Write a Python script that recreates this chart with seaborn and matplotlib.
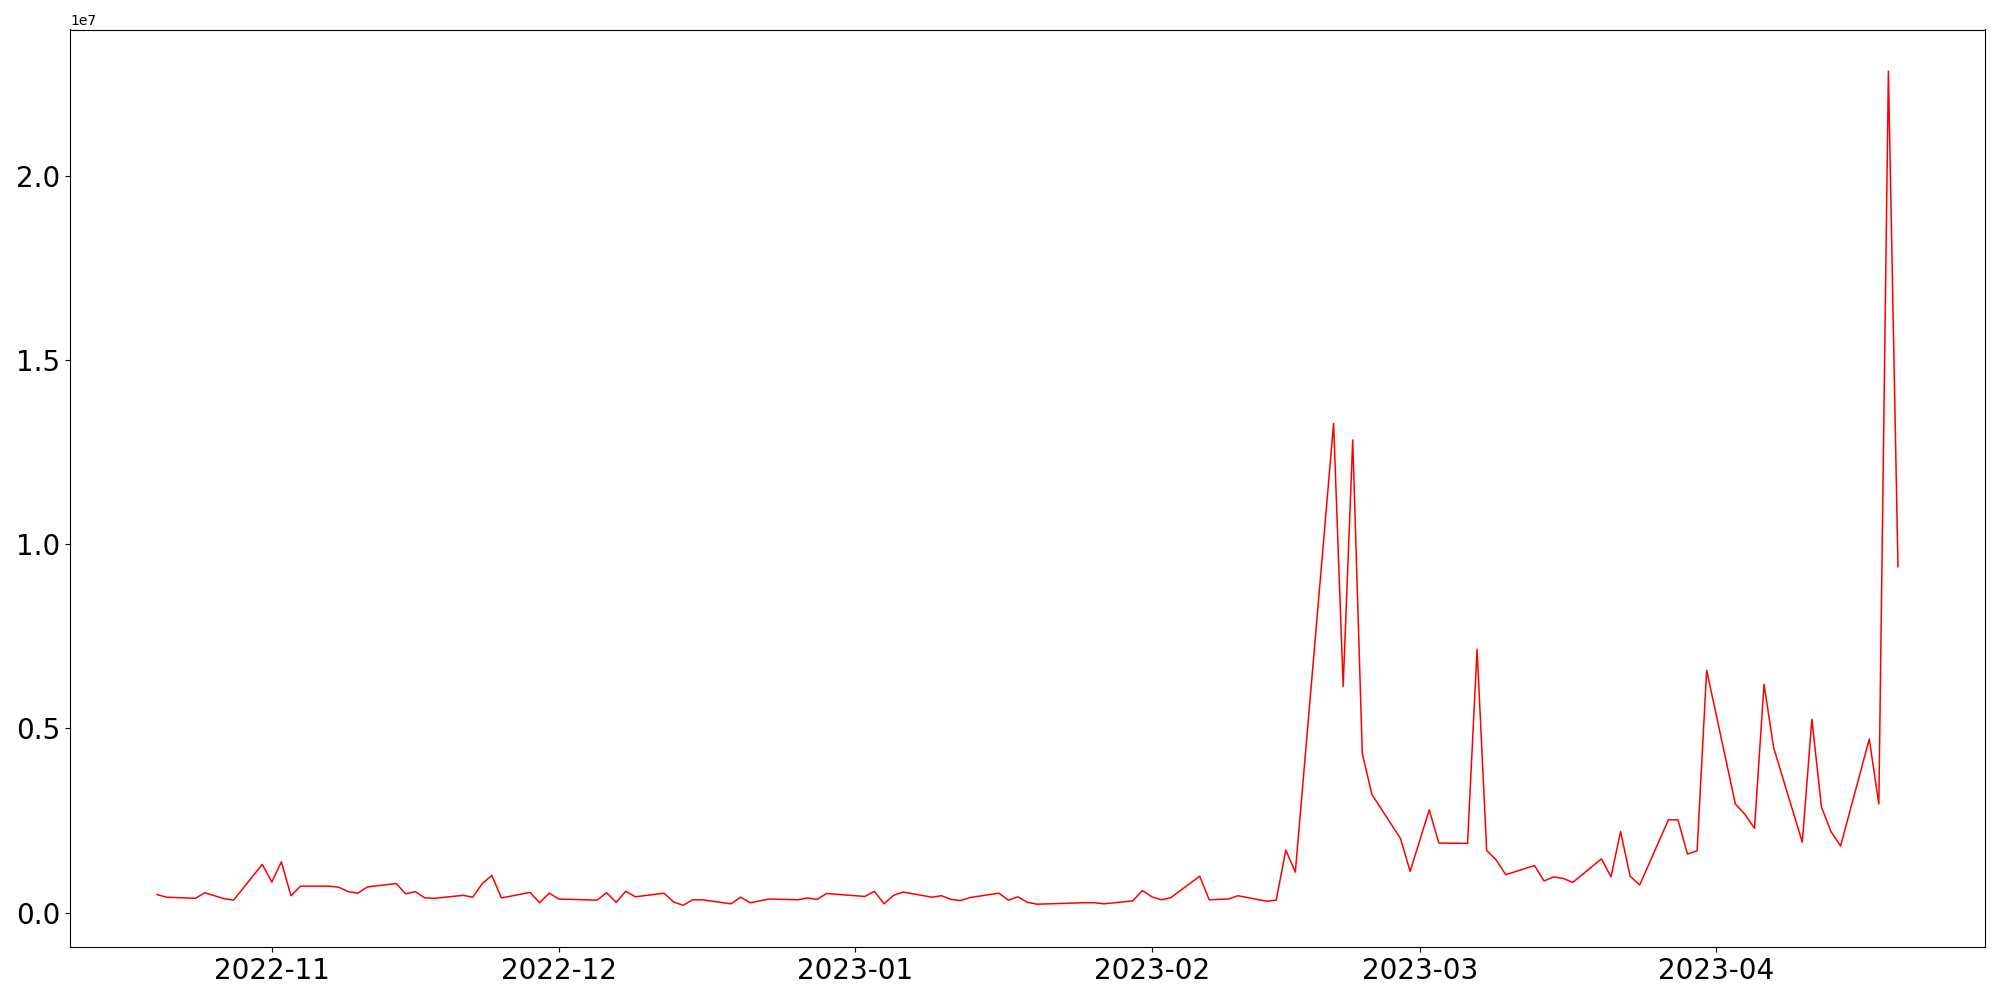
import pandas as pd
import numpy as np
import matplotlib.pyplot as plt
import seaborn as sns

# fechas (dias habiles con datos) y valores en millones
fechas = [
    '2022-10-20', '2022-10-21', '2022-10-24', '2022-10-25', '2022-10-27', '2022-10-28',
    '2022-10-31', '2022-11-01', '2022-11-02', '2022-11-03', '2022-11-04',
    '2022-11-07', '2022-11-08', '2022-11-09', '2022-11-10', '2022-11-11',
    '2022-11-14', '2022-11-15', '2022-11-16', '2022-11-17', '2022-11-18',
    '2022-11-21', '2022-11-22', '2022-11-23', '2022-11-24', '2022-11-25',
    '2022-11-28', '2022-11-29', '2022-11-30', '2022-12-01',
    '2022-12-05', '2022-12-06', '2022-12-07', '2022-12-08', '2022-12-09',
    '2022-12-12', '2022-12-13', '2022-12-14', '2022-12-15', '2022-12-16',
    '2022-12-19', '2022-12-20', '2022-12-21', '2022-12-23',
    '2022-12-26', '2022-12-27', '2022-12-28', '2022-12-29',
    '2023-01-02', '2023-01-03', '2023-01-04', '2023-01-05', '2023-01-06',
    '2023-01-09', '2023-01-10', '2023-01-11', '2023-01-12', '2023-01-13',
    '2023-01-16', '2023-01-17', '2023-01-18', '2023-01-19', '2023-01-20',
    '2023-01-25', '2023-01-26', '2023-01-27',
    '2023-01-30', '2023-01-31', '2023-02-01', '2023-02-02', '2023-02-03',
    '2023-02-06', '2023-02-07', '2023-02-09', '2023-02-10',
    '2023-02-13', '2023-02-14', '2023-02-15', '2023-02-16',
    '2023-02-20', '2023-02-21', '2023-02-22', '2023-02-23', '2023-02-24',
    '2023-02-27', '2023-02-28', '2023-03-02', '2023-03-03',
    '2023-03-06', '2023-03-07', '2023-03-08', '2023-03-09', '2023-03-10',
    '2023-03-13', '2023-03-14', '2023-03-15', '2023-03-16', '2023-03-17',
    '2023-03-20', '2023-03-21', '2023-03-22', '2023-03-23', '2023-03-24',
    '2023-03-27', '2023-03-28', '2023-03-29', '2023-03-30', '2023-03-31',
    '2023-04-03', '2023-04-04', '2023-04-05', '2023-04-06', '2023-04-07',
    '2023-04-10', '2023-04-11', '2023-04-12', '2023-04-13', '2023-04-14',
    '2023-04-17', '2023-04-18', '2023-04-19', '2023-04-20',
]

valores_mill = [
    0.49, 0.42, 0.39, 0.54, 0.38, 0.34,
    1.31, 0.83, 1.38, 0.46, 0.72,
    0.72, 0.69, 0.57, 0.53, 0.70,
    0.79, 0.51, 0.57, 0.40, 0.39,
    0.47, 0.42, 0.79, 1.01, 0.40,
    0.55, 0.27, 0.53, 0.37,
    0.34, 0.54, 0.28, 0.58, 0.43,
    0.53, 0.29, 0.20, 0.35, 0.35,
    0.24, 0.42, 0.27, 0.37,
    0.35, 0.40, 0.36, 0.52,
    0.44, 0.58, 0.24, 0.47, 0.56,
    0.42, 0.46, 0.36, 0.33, 0.41,
    0.53, 0.34, 0.43, 0.28, 0.23,
    0.27, 0.27, 0.24,
    0.32, 0.60, 0.43, 0.35, 0.41,
    0.99, 0.35, 0.37, 0.46,
    0.31, 0.34, 1.70, 1.10,
    13.28, 6.14, 12.83, 4.32, 3.21,
    2.01, 1.12, 2.79, 1.89,
    1.88, 7.15, 1.69, 1.43, 1.03,
    1.28, 0.86, 0.97, 0.93, 0.82,
    1.46, 0.97, 2.20, 0.99, 0.75,
    2.52, 2.52, 1.59, 1.68, 6.58,
    2.95, 2.67, 2.29, 6.20, 4.48,
    1.91, 5.25, 2.87, 2.20, 1.81,
    4.71, 2.95, 22.84, 9.39,
]

df = pd.DataFrame({
    'fecha': pd.to_datetime(fechas),
    'valor': np.array(valores_mill) * 1e6,
})

fig, ax = plt.subplots(figsize=(20, 10), dpi=100)
sns.lineplot(data=df, x='fecha', y='valor', color='red', linewidth=1.1, ax=ax)
ax.set_xlabel('')
ax.set_ylabel('')
plt.xticks(fontsize=20)
plt.yticks(fontsize=20)
fig.subplots_adjust(left=0.035, right=0.9925, top=0.9705, bottom=0.053)
plt.savefig('out.png')
